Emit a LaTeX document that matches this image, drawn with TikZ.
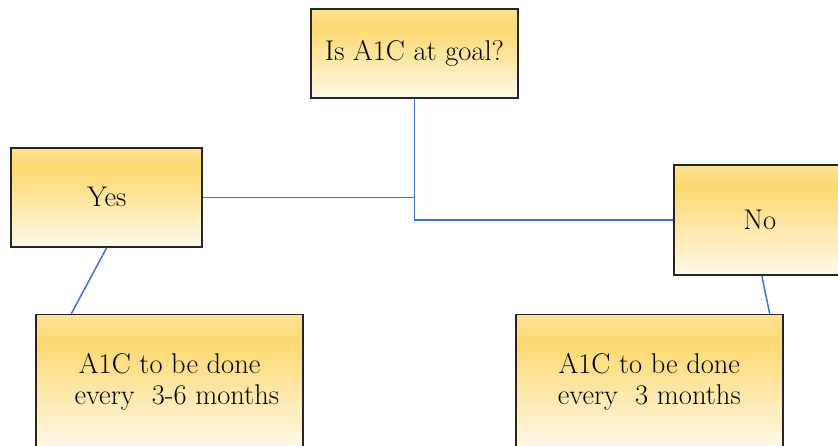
\documentclass[tikz,border=0pt]{standalone}
\usetikzlibrary{positioning}
\definecolor{colorBoxTop}{RGB}{252,226,150}
\definecolor{colorBoxPeak}{RGB}{254,217,112}
\definecolor{colorBoxBottom}{RGB}{255,249,234}
\definecolor{colorLink}{RGB}{68,114,196}
\pgfdeclareverticalshading{boxShade}{100bp}{color(0bp)=(colorBoxBottom); color(25bp)=(colorBoxBottom); color(65bp)=(colorBoxPeak); color(75bp)=(colorBoxTop); color(100bp)=(colorBoxTop)}
\tikzset{box/.style={draw=black!85, line width=1.8pt, shading=boxShade, inner sep=0pt, align=center, font=\fontsize{28.5}{31}\selectfont}}

\begin{document}
\begin{tikzpicture}[x=1pt, y=1pt, link/.style={draw=colorLink, line width=1.5pt}]
\useasboundingbox (0,0) rectangle (838,446);
\node[box, minimum width=207pt, minimum height=89pt] (goal) at (414.5,392.5) {Is A1C at goal?};
\node[box, minimum width=191pt, minimum height=99pt, below left=48pt and 107pt of goal] (yes) {Yes};
\node[box, minimum width=172pt, minimum height=110pt, below right=65pt and 154pt of goal] (no) {No};
\node[box, minimum width=267pt, minimum height=134pt, below right=66pt and 25pt of yes.south west] (every36) {A1C to be done\\\hspace*{0.5em}every\ \ 3-6 months};
\node[box, minimum width=267pt, minimum height=134pt, below left=38pt and 63pt of no.south east] (every3) {A1C to be done\\every\ \ 3 months};
% links
\coordinate (split) at (goal.south |- no.west);
\draw[link] (goal.south) -- (split) -- (no.west);
\draw[link] (yes.east) -- (yes.east -| goal.south);
\draw[link] (yes.south) -- ([xshift=36pt]every36.north west);
\draw[link] ([xshift=2pt]no.south) -- ([xshift=-14pt]every3.north east);
\end{tikzpicture}
\end{document}
